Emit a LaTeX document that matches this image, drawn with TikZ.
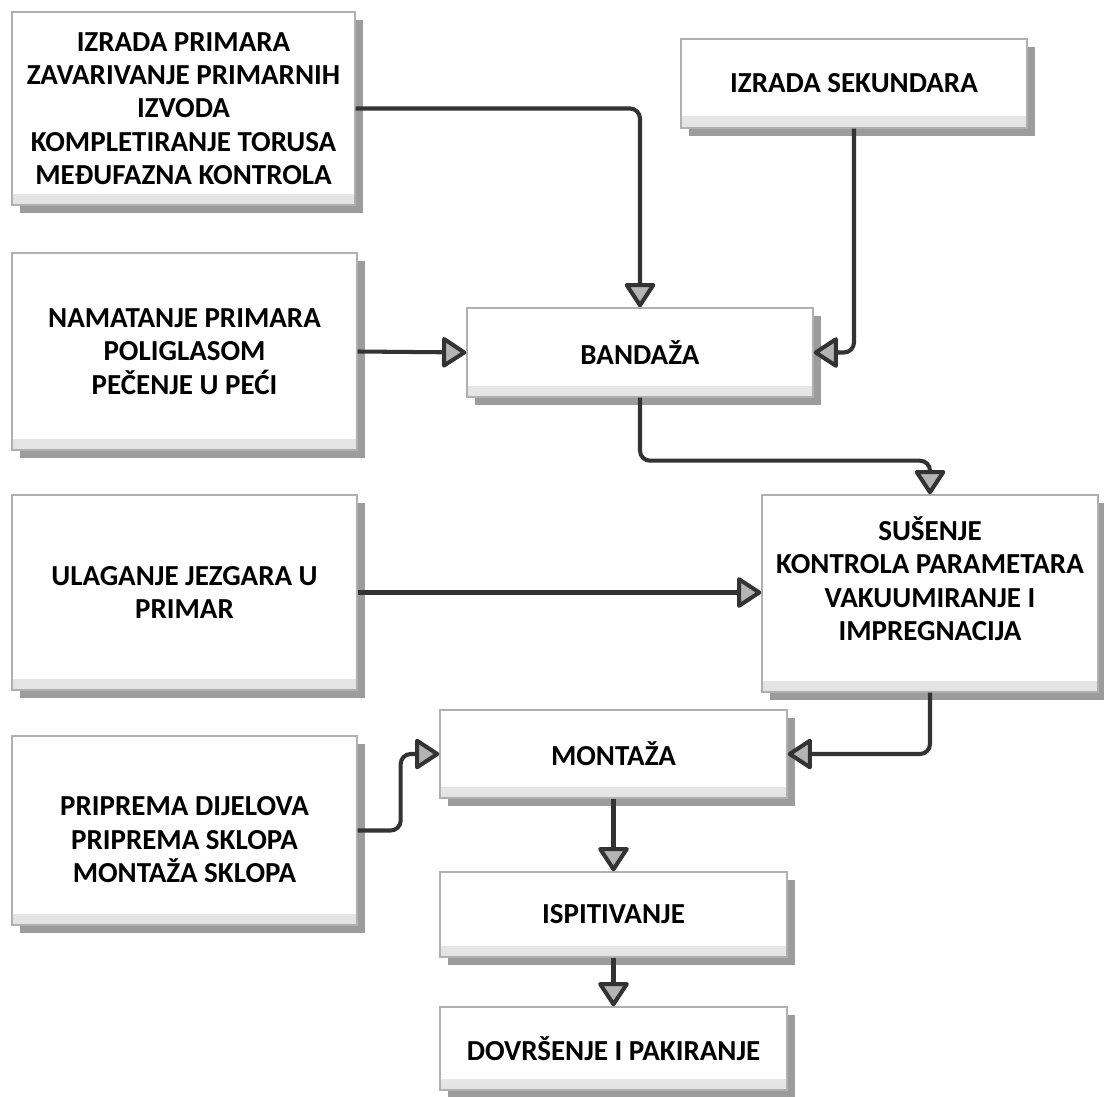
\documentclass[tikz,border=0pt]{standalone}
\usepackage{fontspec}
\setmainfont{Carlito}
\usetikzlibrary{arrows.meta,shadows}
\definecolor{linegray}{HTML}{333333}
\definecolor{tipgray}{HTML}{B4B4B4}
\definecolor{edgegray}{HTML}{B0B0B0}
\definecolor{shadowgray}{HTML}{9C9C9C}
\tikzset{
  stepbox/.style={draw=edgegray, line width=0.8pt, fill=white, align=center,
    font=\fontsize{16.5}{19}\selectfont\bfseries, inner sep=2pt,
    drop shadow={shadow xshift=0.16cm, shadow yshift=-0.16cm, opacity=1, fill=shadowgray},
    path picture={\shade[top color=white, bottom color=gray!22]
      ([yshift=0.22cm]path picture bounding box.south west) rectangle (path picture bounding box.south east);}},
  flow/.style={draw=linegray, line width=2.3pt, rounded corners=0.2cm,
    -{Triangle[length=0.52cm, width=0.66cm, fill=tipgray, round]}}
}
\begin{document}
\begin{tikzpicture}
  \useasboundingbox (0,0) rectangle (22.08,-21.94);
  % input boxes on the left
  \node[stepbox, minimum width=6.86cm, minimum height=3.86cm] (izradaprim) at (3.67,-2.17)
    {IZRADA PRIMARA\\ZAVARIVANJE PRIMARNIH\\IZVODA\\KOMPLETIRANJE TORUSA\\MEĐUFAZNA KONTROLA};
  \node[stepbox, minimum width=6.9cm, minimum height=3.94cm] (namatanje) at (3.69,-7.03)
    {NAMATANJE PRIMARA\\POLIGLASOM\\PEČENJE U PEĆI};
  \node[stepbox, minimum width=6.9cm, minimum height=3.9cm] (ulaganje) at (3.69,-11.85)
    {ULAGANJE JEZGARA U\\PRIMAR};
  \node[stepbox, minimum width=6.9cm, minimum height=3.78cm] (priprema) at (3.69,-16.61)
    {\rule{0pt}{0.75cm}PRIPREMA DIJELOVA\\PRIPREMA SKLOPA\\MONTAŽA SKLOPA};
  % main line
  \node[stepbox, minimum width=6.92cm, minimum height=1.78cm] (sekundar) at (17.08,-1.67)
    {IZRADA SEKUNDARA};
  \node[stepbox, minimum width=6.92cm, minimum height=1.78cm] (bandaza) at (12.8,-7.05)
    {BANDAŽA};
  \node[stepbox, minimum width=6.72cm, minimum height=3.94cm] (susenje) at (18.6,-11.87)
    {SUŠENJE\\KONTROLA PARAMETARA\\VAKUUMIRANJE I\\IMPREGNACIJA\rule[-0.6cm]{0pt}{0pt}};
  \node[stepbox, minimum width=6.94cm, minimum height=1.76cm] (montaza) at (12.27,-15.08)
    {MONTAŽA};
  \node[stepbox, minimum width=6.94cm, minimum height=1.7cm] (ispitivanje) at (12.27,-18.29)
    {ISPITIVANJE};
  \node[stepbox, minimum width=6.94cm, minimum height=1.66cm] (dovrsenje) at (12.27,-20.97)
    {DOVRŠENJE I PAKIRANJE};
  \begin{scope}[flow]
    \draw (izradaprim.east) -| (bandaza.north);
    \draw (sekundar.south) |- (bandaza.east);
    \draw (namatanje.east) -- (bandaza.west);
    \draw (bandaza.south) -- ++(0,-1.26) -| (susenje.north);
    \draw (ulaganje.east) -- (ulaganje.east -| susenje.west);
    \draw (susenje.south) |- (montaza.east);
    \draw (priprema.east) -- ++(0.86,0) |- (montaza.west);
    \draw (montaza.south) -- (ispitivanje.north);
    \draw (ispitivanje.south) -- (dovrsenje.north);
  \end{scope}
\end{tikzpicture}
\end{document}
